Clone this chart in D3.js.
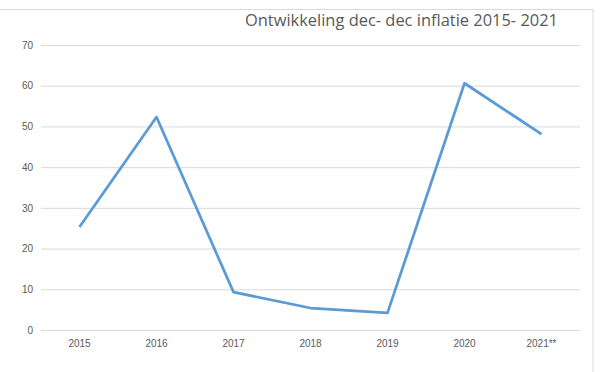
<!DOCTYPE html>
<html>
<head>
<meta charset="utf-8">
<script src="https://cdn.jsdelivr.net/npm/d3@7"></script>
<style>
	body { margin: 0; background: #fff; }
	svg { display: block; font-family: 'Open Sans', sans-serif; }
</style>
</head>
<body>
<div id="chart"></div>
<script>
var title = 'Ontwikkeling dec- dec inflatie 2015- 2021';
var years = [ '2015', '2016', '2017', '2018', '2019', '2020', '2021**' ];
var inflation = [ 25.3, 52.3, 9.3, 5.4, 4.2, 60.6, 48.1 ];
var yTicks = [ 0, 10, 20, 30, 40, 50, 60, 70 ];

var width = 615, height = 372;
var margin = { top: 45, right: 35, bottom: 42, left: 41 };

var svg = d3.select( '#chart' ).append( 'svg' )
	.attr( 'width', width )
	.attr( 'height', height );

// chart area border (only top and right visible in the crop)
svg.append( 'rect' )
	.attr( 'x', -2 )
	.attr( 'y', 9.5 )
	.attr( 'width', 595 )
	.attr( 'height', 380 )
	.attr( 'fill', 'none' )
	.attr( 'stroke', '#d9d9d9' );

var x = d3.scaleBand()
	.domain( years )
	.range( [ margin.left, width - margin.right ] );

var y = d3.scaleLinear()
	.domain( [ 0, 70 ] )
	.range( [ height - margin.bottom, margin.top ] );

var yAxis = svg.append( 'g' )
	.attr( 'transform', 'translate(' + margin.left + ',0)' )
	.call( d3.axisLeft( y ).tickValues( yTicks ).tickSize( -( width - margin.left - margin.right ) ).tickPadding( 8 ) );
yAxis.select( '.domain' ).remove();
yAxis.selectAll( '.tick line' ).attr( 'stroke', '#d9d9d9' );
yAxis.selectAll( '.tick text' )
	.attr( 'fill', '#595959' )
	.style( 'font-size', '10px' );

var xAxis = svg.append( 'g' )
	.attr( 'transform', 'translate(0,' + ( height - margin.bottom ) + ')' )
	.call( d3.axisBottom( x ).tickSize( 0 ).tickPadding( 10 ) );
xAxis.select( '.domain' ).remove();
xAxis.selectAll( '.tick text' )
	.attr( 'fill', '#595959' )
	.style( 'font-size', '10px' );

var line = d3.line()
	.x( function ( d, i ) { return x( years[i] ) + x.bandwidth() / 2; } )
	.y( function ( d ) { return y( d ); } );

svg.append( 'path' )
	.datum( inflation )
	.attr( 'd', line )
	.attr( 'fill', 'none' )
	.attr( 'stroke', '#5b9bd5' )
	.attr( 'stroke-width', 2.75 )
	.attr( 'stroke-linejoin', 'round' );

svg.append( 'text' )
	.attr( 'x', 245 )
	.attr( 'y', 26 )
	.attr( 'fill', '#595959' )
	.attr( 'textLength', 313 )
	.attr( 'lengthAdjust', 'spacingAndGlyphs' )
	.style( 'font-size', '16.5px' )
	.text( title );
</script>
</body>
</html>
